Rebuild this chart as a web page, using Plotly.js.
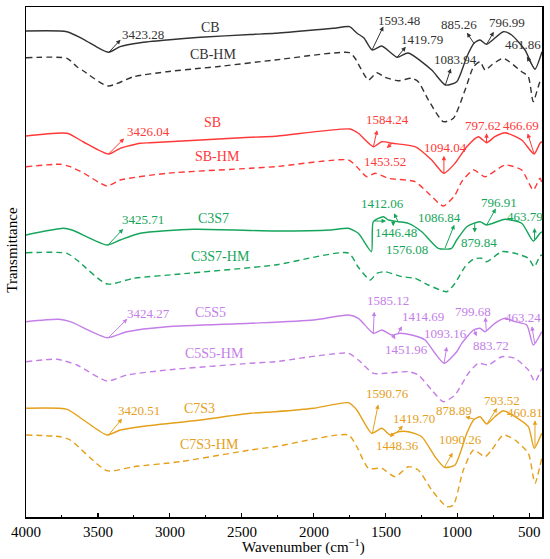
<!DOCTYPE html>
<html>
<head>
<meta charset="utf-8">
<script src="https://cdn.plot.ly/plotly-3.0.1.min.js"></script>
<style>html,body{margin:0;padding:0;background:#fff;}#chart{width:550px;height:559px;}</style>
</head>
<body>
<div id="chart"></div>
<script>
// ---- data (wavenumber in cm^-1, transmittance in arbitrary offset units) ----
const wnCB   = [4000,3715,3600,3500,3425,3345,3206,3020,2789,2441,2268,2001,1864,1750,1700,1650,1593,1526,1420,1343,1179,1084,1005,935,885,843,797,681,623,530,462,412];
const tCB    = [486,485.3,477.7,469.3,464.7,470.3,474.3,477,479.7,482.5,483.7,487,488.7,490.3,484,479,467,471,459.7,464,447,432,435.3,460.3,473.7,477,472.7,485.3,482,467,447.7,465.3];
const wnCBHM = [4000,3715,3646,3600,3430,3252,3020,2789,2673,2268,1750,1712,1619,1561,1503,1411,1318,1272,1202,1098,1028,947,888,843,808,762,681,553,507,473,426,412];
const tCBHM  = [459.3,458.7,450.3,446,431,440.3,445.3,448.7,450.3,457,464.3,458.7,437,444.3,439.7,436.3,438.7,435.3,417,395.3,398.7,427,450.3,455.3,447,452,458.7,445.3,440.3,415.3,435.3,437];
const wnSB   = [4000,3715,3600,3426,3345,3206,3136,2441,2268,1746,1689,1584,1526,1453,1295,1179,1094,1017,935,855,797,740,669,553,467,426,412];
const tSB    = [381,383.7,375,363,368.7,373.7,374.3,379.7,380.7,388,383.7,370.3,375.3,373.7,370.3,357,343.7,353.7,370.3,380.3,374.3,380.3,384.3,377,363,373.7,375.3];
const wnSBHM = [4000,3762,3692,3600,3437,3345,3020,2441,2268,1758,1700,1630,1573,1480,1295,1202,1098,1017,970,888,808,669,553,473,426,412];
const tSBHM  = [350.3,352.7,350.3,344,331,337,343.7,348.7,350.3,357,350.3,340.3,343.7,338.7,335.3,323.7,311,322,335.3,347,340.3,352,347,327,338.7,334];
const wnC3S7   = [4000,3739,3680,3437,3345,3206,2837,2268,1885,1758,1689,1598,1585,1515,1480,1411,1341,1248,1133,1041,1005,935,888,843,797,669,553,473,426,412];
const tC3S7    = [282,288.7,287,272,277,283.7,287.7,286,287,288.7,283.7,265.3,295.3,300.3,297,295.3,293.7,285.3,268.7,268.7,277,290.3,293.7,295.3,292,297.7,293.7,276,283.7,285.3];
const wnC3S7HM = [4000,3715,3646,3437,3252,2928,2268,1758,1689,1607,1561,1503,1387,1295,1202,1074,1017,947,888,831,797,692,600,507,466,426,412];
const tC3S7HM  = [264.3,263.7,257,233,238.7,243,252,264,249.7,237,243.7,245.3,240.3,238.7,232,225.3,233.7,250.3,258,258.7,255.3,265.3,263.7,258.7,250.3,261,262];
const wnC5S5   = [4000,3773,3692,3433,3298,3020,2441,2001,1758,1689,1584,1526,1457,1399,1318,1225,1156,1093,1005,970,888,843,808,740,669,600,518,473,414];
const tC5S5    = [195.3,197.7,195.3,179.3,185.3,190.3,193.7,197,202,198.7,183.7,187,182,183.7,182,177,163.7,153.7,165.3,173.7,187,188.7,185.3,193.7,198.7,195.3,192,172,185.3];
const wnC5S5HM = [4000,3785,3646,3437,3298,3020,2441,2268,1758,1689,1584,1503,1341,1272,1179,1098,1017,924,855,785,692,600,507,461,414];
const tC5S5HM  = [155.3,157.7,152,136,142,147,153.7,155.3,163.7,157,143.7,143.7,145.3,142,127,115.3,122,143.7,153.7,152,160.3,158.7,147,135.3,148.7];
const wnC7S3   = [4000,3715,3600,3437,3345,3206,2789,2441,2268,2001,1758,1700,1596,1526,1468,1411,1341,1248,1156,1090,1017,935,888,843,797,740,681,600,507,466,414];
const tC7S3    = [108.7,107.7,97,82,87,90.3,97,103.7,105.3,108.7,114.3,107,83.7,88.7,82,85.3,85.3,80.3,60.3,49.7,52,83.7,97,100.3,93,100.3,106.3,100.3,90.3,68.7,83.7];
const wnC7S3HM = [4000,3762,3692,3437,3252,2928,2441,2268,1758,1700,1619,1526,1434,1341,1272,1179,1074,1028,959,888,808,762,681,600,507,461,414];
const tC7S3HM  = [82,80.3,77,46.3,50.3,55.3,67,70.3,82,70.3,48.7,48.7,40.3,50.3,47,27,10.3,12,47,67,60.3,67,82,77,63.7,33.7,58.7];

// peak wavenumbers labelled on each solid curve
const peaksCB   = [3423.28,1593.48,1419.79,885.26,796.99,1083.94,461.86];
const peaksSB   = [3426.04,1584.24,1453.52,1094.04,797.62,466.69];
const peaksC3S7 = [3425.71,1412.06,1446.48,1576.08,1086.84,879.84,796.91,463.79];
const peaksC5S5 = [3424.27,1585.12,1414.69,1451.96,1093.16,799.68,883.72,463.24];
const peaksC7S3 = [3420.51,1590.76,1419.70,1448.36,1090.26,878.89,793.52,460.81];

const tickVals = [4000,3500,3000,2500,2000,1500,1000,500];
const tickText = ['4000','3500','3000','2500','2000','1500','1000','500'];

// ---- styling / layout positions (pixels in the 550x559 frame) ----
const FONT = 'Liberation Serif, Times New Roman, serif';
const COL = {CB:'#333333', SB:'#ff3838', C3S7:'#15a55a', C5S5:'#c47ee8', C7S3:'#e5a01b'};
const M = {l:26, r:8, t:7, b:42};
const PW = 550 - M.l - M.r, PH = 559 - M.t - M.b;
const px2paperX = p => (p - M.l) / PW;
const px2paperY = p => (559 - M.b - p) / PH;

const groups = [
  {name:'CB', hm:'CB-HM', wn:wnCB, t:tCB, wnh:wnCBHM, th:tCBHM, peaks:peaksCB,
   namePos:[210.7,27.3], hmPos:[212.5,54.3],
   lab:[[142.5,34.3],[399.3,20],[421.7,39.3],[458.7,25],[507,22.3],[455.5,59.3],[523.3,44.3]],
   arr:[[13,-14],[12,-25],[10,-12],[-8,-12],[8,-14],[6,-18],[-9,-14]]},
  {name:'SB', hm:'SB-HM', wn:wnSB, t:tSB, wnh:wnSBHM, th:tSBHM, peaks:peaksSB,
   namePos:[212.7,122.7], hmPos:[217.2,156.7],
   lab:[[148.8,131.7],[387.7,119.3],[385.3,161],[445.3,147.7],[483,125.7],[520.8,125.7]],
   arr:[[17,-17],[4,-18],[-7,6],[0,-19],[0,-11],[-7,-22]]},
  {name:'C3S7', hm:'C3S7-HM', wn:wnC3S7, t:tC3S7, wnh:wnC3S7HM, th:tC3S7HM, peaks:peaksC3S7,
   namePos:[213.3,218.3], hmPos:[220.5,256],
   lab:[[143.3,220],[382.8,204],[396.2,232.7],[406.7,249],[439,217.7],[479.2,242.7],[498.7,202.7],[524.7,216.7]],
   arr:[[16,-17],[-5,-10],[0,7],[13,0],[10,-25],[0,11],[10,-18],[0,-13]]},
  {name:'C5S5', hm:'C5S5-HM', wn:wnC5S5, t:tC5S5, wnh:wnC5S5HM, th:tC5S5HM, peaks:peaksC5S5,
   namePos:[210.7,312.7], hmPos:[214.2,353.3],
   lab:[[148.8,313.3],[387.8,300],[423.3,316.7],[406.7,349.3],[445.7,334],[473.3,311.7],[490.5,345.7],[523.3,317.3]],
   arr:[[20,-20],[1,-23],[5,-9],[4,6],[3,-18],[-1,-15],[3,8],[-3,-18]]},
  {name:'C7S3', hm:'C7S3-HM', wn:wnC7S3, t:tC7S3, wnh:wnC7S3HM, th:tC7S3HM, peaks:peaksC7S3,
   namePos:[199.3,408.3], hmPos:[209.7,444],
   lab:[[139.3,410],[387.7,393.3],[413.8,418.3],[397.2,445.7],[460,439.3],[453.8,410.7],[502.2,400],[525,412.7]],
   arr:[[14,-17],[6,-30],[7,-8],[-4,5],[9,-16],[-11,-3],[11,-17],[0,-28]]}
];

function interp(xs, ys, x) {
  for (let i = 0; i < xs.length - 1; i++) {
    const a = xs[i], b = xs[i+1];
    if ((x <= a && x >= b) || (x >= a && x <= b)) {
      const f = (x - a) / (b - a);
      return ys[i] + f * (ys[i+1] - ys[i]);
    }
  }
  return ys[ys.length - 1];
}

const traces = [];
const annotations = [];
groups.forEach(g => {
  const c = COL[g.name];
  traces.push({x:g.wn, y:g.t, type:'scatter', mode:'lines', name:g.name,
    line:{color:c, width:1.4, shape:'spline', smoothing:0.6}});
  traces.push({x:g.wnh, y:g.th, type:'scatter', mode:'lines', name:g.hm,
    line:{color:c, width:1.4, dash:'6px,4px', shape:'spline', smoothing:0.6}});
  annotations.push({xref:'paper', yref:'paper', x:px2paperX(g.namePos[0]), y:px2paperY(g.namePos[1]),
    text:g.name, showarrow:false, xanchor:'center', yanchor:'middle', font:{family:FONT, size:14, color:c}});
  annotations.push({xref:'paper', yref:'paper', x:px2paperX(g.hmPos[0]), y:px2paperY(g.hmPos[1]),
    text:g.hm, showarrow:false, xanchor:'center', yanchor:'middle', font:{family:FONT, size:14, color:c}});
  g.peaks.forEach((p, i) => {
    annotations.push({xref:'paper', yref:'paper', x:px2paperX(g.lab[i][0]), y:px2paperY(g.lab[i][1]),
      text:p.toFixed(2), showarrow:false, xanchor:'center', yanchor:'middle', font:{family:FONT, size:13, color:c}});
    annotations.push({xref:'x', yref:'y', x:p, y:interp(g.wn, g.t, p), text:'', showarrow:true,
      ax:g.arr[i][0], ay:g.arr[i][1], arrowside:'start', startarrowhead:2, startarrowsize:0.9,
      arrowwidth:1, arrowcolor:c, standoff:0, startstandoff:0});
  });
});

// x tick labels placed on the axis scale
tickVals.forEach((v, i) => {
  annotations.push({xref:'x', yref:'paper', x:v, y:0, yshift:-15, text:tickText[i], showarrow:false,
    xanchor:'center', yanchor:'middle', font:{family:FONT, size:15, color:'#000'}});
});

annotations.push({xref:'paper', yref:'paper', x:px2paperX(303), y:px2paperY(546), text:'Wavenumber (cm<sup>\u22121</sup>)',
  showarrow:false, xanchor:'center', yanchor:'middle', font:{family:FONT, size:15, color:'#000'}});
annotations.push({xref:'paper', yref:'paper', x:px2paperX(11.7), y:px2paperY(250), text:'Transmittance', textangle:-90,
  showarrow:false, xanchor:'center', yanchor:'middle', font:{family:FONT, size:15, color:'#000'}});

const layout = {
  width:550, height:559, margin:M, showlegend:false,
  paper_bgcolor:'#ffffff', plot_bgcolor:'#ffffff',
  font:{family:FONT, color:'#000'},
  xaxis:{range:[4000,412], tickmode:'array', tickvals:tickVals, ticktext:tickText, showticklabels:false,
    ticks:'inside', ticklen:4, tickwidth:1.2, tickcolor:'#000',
    minor:{tickmode:'linear', tick0:0, dtick:250, ticks:'inside', ticklen:2, tickwidth:1, tickcolor:'#000'},
    showline:true, linecolor:'#000', linewidth:1.5, mirror:true, showgrid:false, zeroline:false},
  yaxis:{range:[0,510], showticklabels:false, ticks:'', showline:true, linecolor:'#000', linewidth:1.5,
    mirror:true, showgrid:false, zeroline:false},
  annotations:annotations
};

Plotly.newPlot('chart', traces, layout, {staticPlot:true, displayModeBar:false});
</script>
</body>
</html>
